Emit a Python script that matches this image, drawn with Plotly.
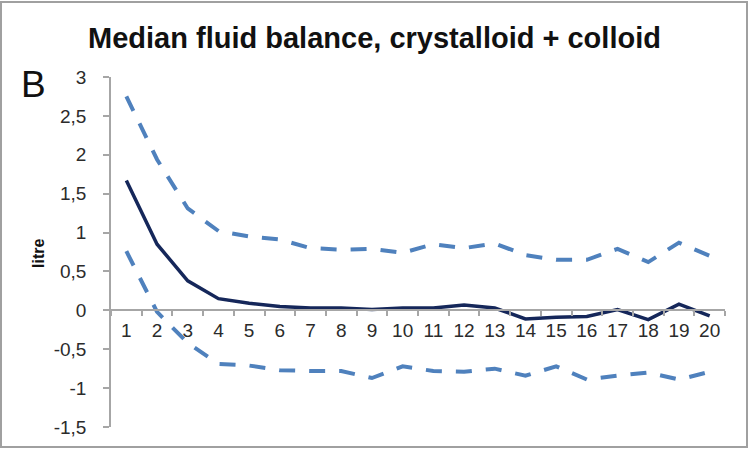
import plotly.graph_objects as go

# Day after admission
days = [str(d) for d in range(1, 21)]

# Fluid balance (litre): median and the two percentile bands
median = [1.67, 0.85, 0.38, 0.15, 0.09, 0.05, 0.03, 0.03, 0.01, 0.03,
          0.03, 0.07, 0.03, -0.11, -0.09, -0.08, 0.01, -0.12, 0.08, -0.07]
upper = [2.75, 1.94, 1.31, 1.02, 0.95, 0.91, 0.80, 0.78, 0.79, 0.74,
         0.85, 0.80, 0.86, 0.71, 0.65, 0.65, 0.79, 0.62, 0.87, 0.70]
lower = [0.76, -0.02, -0.42, -0.69, -0.71, -0.77, -0.78, -0.78, -0.87, -0.72,
         -0.78, -0.79, -0.75, -0.84, -0.72, -0.89, -0.84, -0.80, -0.89, -0.79]

y_tickvals = [-1.5, -1, -0.5, 0, 0.5, 1, 1.5, 2, 2.5, 3]
y_ticktext = ["-1,5", "-1", "-0,5", "0", "0,5", "1", "1,5", "2", "2,5", "3"]

W, H = 749, 450
L, R, T, B = 111, 24, 77, 23
pw, ph = W - L - R, H - T - B


def px_x(x):
    return (x - L) / pw


def px_y(y):
    return (H - B - y) / ph


axis_grey = "#a6a6a6"
tick_font = dict(family="Liberation Sans, Arial, sans-serif", size=19, color="#2b2b2b")
band = dict(color="#4f81bd", width=4, dash="16px,14px")

fig = go.Figure()
fig.add_trace(go.Scatter(x=days, y=upper, mode="lines", line=band, showlegend=False))
fig.add_trace(go.Scatter(x=days, y=lower, mode="lines", line=band, showlegend=False))
fig.add_trace(go.Scatter(x=days, y=median, mode="lines",
                         line=dict(color="#15275a", width=3.5), showlegend=False))

fig.update_layout(
    width=W, height=H,
    margin=dict(l=L, r=R, t=T, b=B),
    paper_bgcolor="white", plot_bgcolor="white",
    title=dict(text="<b>Median fluid balance, crystalloid + colloid</b>",
               font=dict(family="Liberation Sans, Arial, sans-serif",
                         size=29, color="#111111"),
               x=0.5, xref="container", xanchor="center",
               y=1 - 38 / H, yref="container", yanchor="middle"),
    xaxis=dict(type="category", categoryorder="array", categoryarray=days,
               range=[-0.5, 19.5], autorange=False,
               anchor="free", position=1.5 / 4.5,
               showline=True, linecolor=axis_grey, linewidth=1.5,
               ticks="outside", ticklen=5, tickcolor=axis_grey, tickwidth=1.5,
               tickson="boundaries", showgrid=False, zeroline=False,
               tickangle=0, tickfont=tick_font, ticklabelstandoff=3),
    yaxis=dict(range=[-1.5, 3], tickvals=y_tickvals, ticktext=y_ticktext,
               showline=True, linecolor=axis_grey, linewidth=1.5,
               ticks="outside", ticklen=6, tickcolor=axis_grey, tickwidth=1.5,
               showgrid=False, zeroline=False,
               tickfont=tick_font, ticklabelstandoff=13),
    annotations=[
        dict(text="B", xref="paper", yref="paper", x=px_x(33), y=px_y(84),
             xanchor="center", yanchor="middle", showarrow=False,
             font=dict(family="Liberation Sans, Arial, sans-serif", size=37, color="#111111")),
        dict(text="<b>litre</b>", xref="paper", yref="paper", x=px_x(38), y=px_y(254),
             xanchor="center", yanchor="middle", showarrow=False, textangle=-90,
             font=dict(family="Liberation Sans, Arial, sans-serif", size=16, color="#111111")),
    ],
    shapes=[
        dict(type="rect", xref="paper", yref="paper",
             x0=px_x(1), x1=px_x(747), y0=px_y(447), y1=px_y(2),
             line=dict(color="#a0a0a0", width=2), fillcolor="rgba(0,0,0,0)", layer="below"),
    ],
)

fig.write_html("out.html")
